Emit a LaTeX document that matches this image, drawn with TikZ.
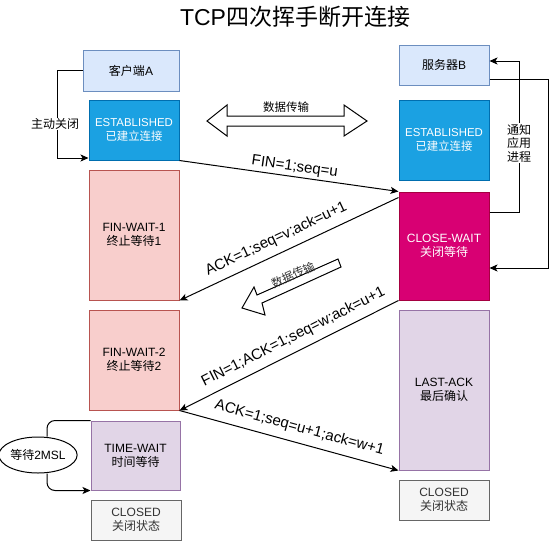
\documentclass[tikz,border=0pt]{standalone}
\usepackage{fontspec}
\setmainfont{Liberation Sans}
\newfontfamily\cjk{Noto Sans CJK SC}
\usepackage{tikz}
\usetikzlibrary{arrows.meta,positioning,shapes.geometric}
\newcommand{\zh}[1]{{\cjk #1}}
\definecolor{paleblue}{HTML}{DAE8FC}
\definecolor{paleblueline}{HTML}{6C8EBF}
\definecolor{estfill}{HTML}{1BA1E2}
\definecolor{estline}{HTML}{006EAF}
\definecolor{waitfill}{HTML}{F8CECC}
\definecolor{waitline}{HTML}{B85450}
\definecolor{closefill}{HTML}{D80073}
\definecolor{closeline}{HTML}{A50040}
\definecolor{lilac}{HTML}{E1D5E7}
\definecolor{lilacline}{HTML}{9673A6}
\definecolor{greyfill}{HTML}{F5F5F5}
\definecolor{greyline}{HTML}{666666}
\definecolor{greytext}{HTML}{333333}

\begin{document}
\begin{tikzpicture}[x=1pt,y=-1pt,
		box/.style={draw,line width=1pt,minimum width=90pt,inner sep=0pt,align=center,font=\fontsize{12}{14}\selectfont},
		hostbox/.style={box,fill=paleblue,draw=paleblueline},
		estbox/.style={box,fill=estfill,draw=estline,text=white},
		waitbox/.style={box,fill=waitfill,draw=waitline},
		closebox/.style={box,fill=closefill,draw=closeline,text=white},
		lilacbox/.style={box,fill=lilac,draw=lilacline},
		endbox/.style={box,fill=greyfill,draw=greyline,text=greytext},
		flow/.style={line width=1pt,-{Stealth[length=8pt,width=7pt,inset=2pt]}},
		msg/.style={font=\fontsize{15}{17}\selectfont,sloped,inner sep=1pt},
		note/.style={fill=white,inner sep=1pt,align=center,font=\fontsize{12}{14}\selectfont}]
		\useasboundingbox (0,0) rectangle (556,541);
		\node[font=\fontsize{23}{26}\selectfont] (title) at (295,17) {TCP\zh{四次挥手断开连接}};
		% client side
		\node[hostbox,minimum width=96pt,minimum height=41pt] (cliA) at (131,70.5) {\zh{客户端}A};
		\node[estbox,minimum height=60pt,font=\fontsize{11.4}{14}\selectfont] (estA) at (134,130) {ESTABLISHED\\\zh{已建立连接}};
		\node[waitbox,minimum height=130pt] (fwa) at (134,235) {FIN-WAIT-1\\\zh{终止等待}1};
		\node[waitbox,minimum height=100pt] (fwb) at (134,360) {FIN-WAIT-2\\\zh{终止等待}2};
		\node[lilacbox,minimum width=89pt,minimum height=69pt] (tw) at (135.5,455.5) {TIME-WAIT\\\zh{时间等待}};
		\node[endbox,minimum height=40pt] (clA) at (136,520) {CLOSED\\\zh{关闭状态}};
		\node[ellipse,draw,line width=1pt,minimum width=73pt,minimum height=36pt,inner sep=0pt,font=\fontsize{12}{14}\selectfont] (msl) at (38,455) {\zh{等待}2MSL};
		% server side
		\node[hostbox,minimum height=40pt] (srvB) at (444,65) {\zh{服务器}B};
		\node[estbox,minimum height=80pt,font=\fontsize{11.4}{14}\selectfont] (estB) at (444,140) {ESTABLISHED\\\zh{已建立连接}};
		\node[closebox,minimum height=108pt] (cw) at (444,246) {CLOSE-WAIT\\\zh{关闭等待}};
		\node[lilacbox,minimum height=160pt] (la) at (444,390) {LAST-ACK\\\zh{最后确认}};
		\node[endbox,minimum height=40pt] (clB) at (444,500) {CLOSED\\\zh{关闭状态}};
		% loops
		\coordinate (ain) at ([yshift=-28pt]estA.west);
		\draw[flow] (cliA.west) -- ++(-25,0) |- (ain);
		\node[note] (actv) at (55,124) {\zh{主动关闭}};
		\coordinate (nout) at ([yshift=34pt]cw.east);
		\coordinate (nin) at ([yshift=4pt]srvB.east);
		\draw[flow] (nout) -- ++(30,0) |- (nin);
		\node[note,font=\fontsize{12}{13.5}\selectfont] (tell) at (519,143) {\zh{通知}\\\zh{应用}\\\zh{进程}};
		\coordinate (bout) at ([yshift=-14pt]srvB.east);
		\coordinate (bin) at ([yshift=-22pt]cw.east);
		\draw[flow] (bout) -- ++(59,0) |- (bin);
		\draw[line width=1pt,rounded corners=8pt] (tw.north west) -| ([xshift=9pt]msl.north);
		\draw[flow,rounded corners=8pt] ([xshift=9pt]msl.south) |- (tw.south west);
		% messages
		\draw[flow] (estA.south east) -- (cw.north west) node[msg,pos=0.52,above=1pt] {FIN=1;seq=u};
		\draw[flow] ([yshift=-6pt]cw.north west) -- (fwa.south east) node[msg,pos=0.53,above=6pt] {ACK=1;seq=v;ack=u+1};
		\draw[flow] (cw.south west) -- (fwb.south east) node[msg,pos=0.45,above=6pt] {FIN=1;ACK=1;seq=w;ack=u+1};
		\draw[flow] (fwb.south east) -- (la.south west) node[msg,pos=0.53,above=6pt] {ACK=1;seq=u+1;ack=w+1};
		% data transfer arrows
		\draw[line width=1pt,fill=white] (207,121) -- (227,105) -- (227,116) -- (344,116) -- (344,105) -- (367,121) -- (344,136) -- (344,126) -- (227,126) -- (227,136) -- cycle;
		\node[font=\fontsize{11.5}{13}\selectfont] (dtop) at (286,107) {\zh{数据传输}};
		\draw[line width=1pt,fill=white] (338,259) -- (341,267) -- (262,303) -- (265,315) -- (242,308) -- (254,287) -- (257,295) -- cycle;
		\node[font=\fontsize{11.5}{13}\selectfont,text=greytext,rotate=24.6] (dmid) at (293,275) {\zh{数据传输}};
\end{tikzpicture}
\end{document}
